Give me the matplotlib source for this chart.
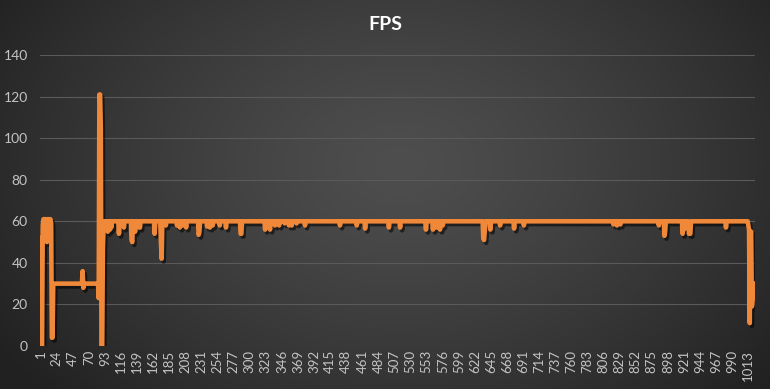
import numpy as np
import matplotlib
matplotlib.use("Agg")
import matplotlib.pyplot as plt
import matplotlib.patheffects as pe

# ---------------- data ----------------
title = "FPS"
n_samples = 1022
# plateau levels: value from start index onward
level_start = [1, 19, 85, 88, 90]
level_value = [61, 30, 121, 0, 60]
# individual samples deviating from the plateau
dip_index = [1, 2, 3, 4, 10, 16, 17, 18, 61, 62, 84, 87, 90, 91,
             97, 98, 100, 102, 113, 120, 131, 132, 136, 142, 143, 164,
             173, 174, 180, 196, 200, 204, 209, 227, 228, 239, 243, 247,
             257, 266, 287, 288, 322, 328, 329, 336, 342, 350, 356, 360,
             367, 379, 429, 453, 465, 499, 515, 552, 562, 567, 572, 576,
             634, 635, 636, 644, 658, 678, 692, 820, 825, 830, 885, 893,
             894, 919, 921, 925, 928, 929, 930, 981,
             1013, 1014, 1015, 1016, 1017, 1018, 1019, 1020, 1021, 1022]
dip_value = [52, 0, 0, 58, 50, 59, 4, 4, 36, 28, 23, 105, 47, 58,
             55, 59, 56, 57, 54, 57, 51, 50, 55, 57, 57, 54,
             50, 42, 58, 58, 57, 58, 57, 53.5, 55, 57.5, 57, 58,
             58, 57, 54, 54, 56, 58, 56, 58, 58, 59, 58, 58,
             59, 58, 58, 58, 56.5, 57, 57, 56, 56, 57, 56, 58,
             52, 51, 55, 56, 58, 56.5, 58, 58.5, 58, 58.5, 58, 53,
             55, 54, 56, 57, 54, 54, 54, 57,
             58, 56, 11, 55, 55, 19, 22, 30, 28, 30]
tick_labels = [str(v) for v in range(1, n_samples + 1, 23)]
y_ticks = [0, 20, 40, 60, 80, 100, 120, 140]

# ---------------- build series ----------------
idx = np.arange(1, n_samples + 1)
fps = np.zeros(n_samples)
for s, v in zip(level_start, level_value):
    fps[idx >= s] = v
for i, v in zip(dip_index, dip_value):
    fps[i - 1] = v

# ---------------- figure ----------------
W, H = 770, 389
fig = plt.figure(figsize=(W / 100, H / 100), dpi=100)

# radial gradient background
bg = fig.add_axes([0, 0, 1, 1], zorder=0)
yy, xx = np.mgrid[0:H, 0:W]
cx, cy = W * 0.52, H * 0.42
d = np.sqrt(((xx - cx) / (W * 0.62)) ** 2 + ((yy - cy) / (H * 0.85)) ** 2)
d = np.clip(d, 0, 1)
inner, outer = 0x4e, 0x22
val = (inner + (outer - inner) * d ** 1.3) / 255.0
img = np.dstack([val, val, val])
bg.imshow(img, aspect="auto", extent=[0, 1, 0, 1], origin="upper")
bg.set_axis_off()

left, right = 40.3 / W, 755 / W
bottom, top = 1 - 346 / H, 1 - 55 / H
ax = fig.add_axes([left, bottom, right - left, top - bottom], zorder=1)
ax.set_facecolor("none")

ax.plot(idx, fps, color="#F0883A", lw=3.3, solid_joinstyle="round",
        solid_capstyle="round",
        path_effects=[pe.SimpleLineShadow(offset=(1.5, -2.0), shadow_color="black", alpha=0.55),
                      pe.Normal()], zorder=3)

ax.set_xlim(0.5, n_samples + 0.5)
ax.set_ylim(0, 140)
ax.set_yticks(y_ticks)
ax.set_xticks(list(range(1, n_samples + 1, 23)))
ax.set_xticklabels(tick_labels, rotation=90, fontsize=9.5, color="#c4c4c4",
                   family=["Lato", "DejaVu Sans"])
ax.set_yticklabels([str(v) for v in y_ticks], fontsize=10, color="#c4c4c4",
                   family=["Lato", "DejaVu Sans"])
ax.tick_params(axis="both", length=0)
ax.tick_params(axis="x", pad=3)
ax.tick_params(axis="y", pad=9)
for sp in ax.spines.values():
    sp.set_visible(False)
ax.grid(axis="y", color="#5a5a5a", lw=0.8)
ax.set_axisbelow(True)

fig.text(0.5, 1 - 25 / H, title, ha="center", va="center", color="white",
         fontsize=14, fontweight="bold", family=["Lato", "DejaVu Sans"])

fig.savefig("out.png", dpi=100)
